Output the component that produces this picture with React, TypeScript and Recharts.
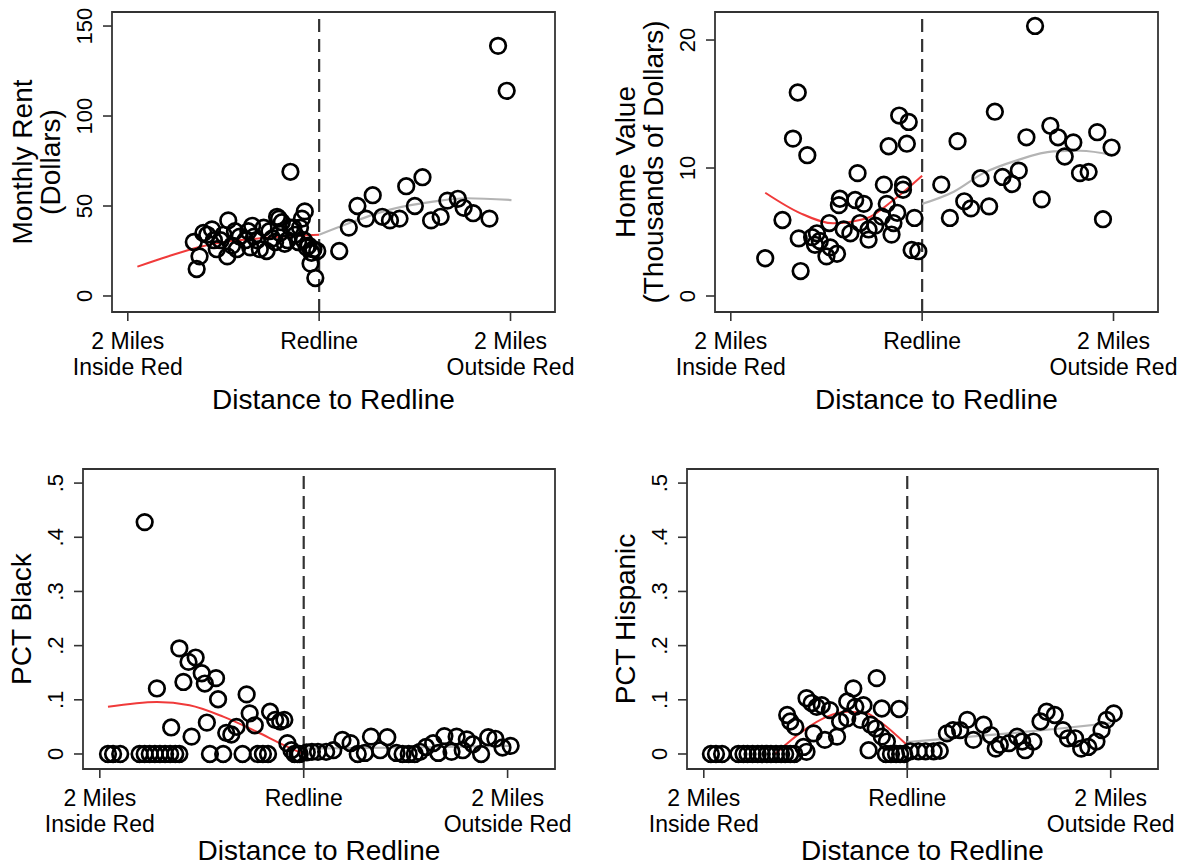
import {
  ComposedChart,
  Scatter,
  Line,
  XAxis,
  YAxis,
  ReferenceLine,
  ReferenceArea,
  Label,
} from "recharts"

type Pt = [number, number]

const FONT = '"Liberation Sans", Arial, Helvetica, sans-serif'

// distance to the redline, in miles (negative = inside the red area)
const X_DOMAIN: [number, number] = [-2.165, 2.465]
const X_TICKS = [-2, 0, 2]
const insideTickLabel = ["2 Miles", "Inside Red"]
const redlineTickLabel = ["Redline"]
const outsideTickLabel = ["2 Miles", "Outside Red"]
const xTitle = "Distance to Redline"

// --- Monthly rent ---
const rentTicks = [0, 50, 100, 150]
const rentTitle = ["Monthly Rent", "(Dollars)"]
const rentPoints: Pt[] = [
  [-1.28, 15], [-1.31, 30], [-1.25, 22], [-1.21, 35], [-1.17, 34], [-1.12, 37],
  [-1.1, 31], [-1.07, 26], [-1.03, 31], [-1.0, 34], [-0.96, 22], [-0.95, 42],
  [-0.91, 28], [-0.88, 36], [-0.86, 26], [-0.83, 33], [-0.77, 31], [-0.74, 36],
  [-0.72, 27], [-0.7, 39], [-0.68, 33], [-0.65, 31], [-0.62, 26], [-0.58, 38],
  [-0.55, 25], [-0.52, 36], [-0.49, 32], [-0.46, 30], [-0.44, 44], [-0.42, 43],
  [-0.41, 35], [-0.39, 41], [-0.36, 29], [-0.33, 31], [-0.3, 69], [-0.3, 38],
  [-0.27, 38], [-0.25, 34], [-0.22, 30], [-0.2, 38], [-0.18, 43], [-0.16, 31],
  [-0.15, 47], [-0.13, 27], [-0.11, 28], [-0.09, 18], [-0.08, 24], [-0.06, 26],
  [-0.04, 10], [-0.02, 25],
  [0.21, 25], [0.31, 38], [0.4, 50], [0.49, 43], [0.56, 56], [0.66, 44],
  [0.74, 42], [0.84, 43], [0.91, 61], [1.0, 50], [1.08, 66], [1.17, 42],
  [1.27, 44], [1.34, 53], [1.45, 54], [1.51, 49], [1.61, 46], [1.78, 43],
  [1.87, 139], [1.96, 114],
]
const rentFitInside: Pt[] = [
  [-1.9, 16.3], [-1.59, 21.8], [-1.24, 27.4], [-0.96, 30.2], [-0.72, 31.5], [-0.4, 33], [0, 34],
]
const rentFitOutside: Pt[] = [
  [0, 34], [0.31, 40.4], [0.74, 48], [1.19, 52.4], [1.54, 54.3], [2.01, 53.3],
]

// --- Home value ---
const valueTicks = [0, 10, 20]
const valueTitle = ["Home Value", "(Thousands of Dollars)"]
const valuePoints: Pt[] = [
  [-1.64, 2.95], [-1.46, 5.94], [-1.35, 12.3], [-1.3, 15.9], [-1.29, 4.5], [-1.27, 1.95],
  [-1.2, 11.0], [-1.15, 4.6], [-1.12, 4.0], [-1.1, 4.9], [-1.07, 4.3], [-1.0, 3.1],
  [-0.97, 5.7], [-0.96, 3.8], [-0.89, 3.3], [-0.87, 7.1], [-0.86, 7.6], [-0.82, 5.2],
  [-0.75, 4.9], [-0.7, 7.5], [-0.675, 9.6], [-0.65, 5.7], [-0.61, 7.2], [-0.56, 5.2],
  [-0.56, 4.4], [-0.49, 5.5], [-0.42, 6.2], [-0.4, 8.7], [-0.37, 7.2], [-0.35, 11.7],
  [-0.32, 4.8], [-0.3, 5.7], [-0.26, 6.5], [-0.24, 14.1], [-0.2, 8.7], [-0.2, 8.3],
  [-0.16, 11.9], [-0.14, 13.6], [-0.11, 3.6], [-0.08, 6.1], [-0.04, 3.5],
  [0.2, 8.7], [0.29, 6.1], [0.37, 12.1], [0.44, 7.4], [0.51, 6.85], [0.61, 9.2],
  [0.7, 7.0], [0.76, 14.4], [0.84, 9.3], [0.94, 8.75], [1.01, 9.8], [1.09, 12.4],
  [1.18, 21.1], [1.25, 7.55], [1.34, 13.3], [1.42, 12.4], [1.49, 10.9], [1.58, 12.0],
  [1.65, 9.6], [1.74, 9.7], [1.83, 12.8], [1.89, 6.0], [1.98, 11.6],
]
const valueFitInside: Pt[] = [
  [-1.64, 8.07], [-1.27, 6.46], [-0.93, 5.68], [-0.58, 6.07], [-0.3, 7.5], [0, 9.4],
]
const valueFitOutside: Pt[] = [
  [0, 7.2], [0.33, 8.15], [0.64, 9.6], [0.99, 10.6], [1.37, 11.3], [1.65, 11.35], [2.0, 11.0],
]

// --- Share Black / Hispanic ---
const shareTicks = [0, 0.1, 0.2, 0.3, 0.4, 0.5]
const blackTitle = ["PCT Black"]
const blackPoints: Pt[] = [
  [-1.92, 0], [-1.87, 0], [-1.8, 0], [-1.61, 0], [-1.56, 0], [-1.51, 0], [-1.46, 0],
  [-1.41, 0], [-1.36, 0], [-1.31, 0], [-1.26, 0], [-1.22, 0], [-0.92, 0], [-0.79, 0],
  [-0.6, 0], [-0.45, 0], [-0.4, 0], [-0.35, 0], [-0.09, 0], [-0.06, 0], [-0.04, 0],
  [-1.56, 0.428], [-1.44, 0.121], [-1.3, 0.049], [-1.22, 0.195], [-1.18, 0.133],
  [-1.13, 0.17], [-1.1, 0.032], [-1.06, 0.178], [-1.0, 0.149], [-0.97, 0.13],
  [-0.95, 0.058], [-0.86, 0.14], [-0.84, 0.101], [-0.76, 0.039], [-0.71, 0.036],
  [-0.66, 0.05], [-0.56, 0.11], [-0.53, 0.075], [-0.48, 0.053], [-0.33, 0.078],
  [-0.28, 0.063], [-0.23, 0.06], [-0.19, 0.063], [-0.16, 0.02], [-0.12, 0.007],
  [0.03, 0.003], [0.08, 0.004], [0.14, 0.004], [0.22, 0.004], [0.29, 0.007],
  [0.38, 0.026], [0.46, 0.02], [0.53, 0], [0.6, 0.002], [0.66, 0.032], [0.75, 0.007],
  [0.82, 0.031], [0.91, 0.002], [0.97, 0], [1.03, 0], [1.09, 0], [1.14, 0.004],
  [1.2, 0.013], [1.27, 0.02], [1.32, 0.002], [1.38, 0.033], [1.45, 0.004], [1.5, 0.032],
  [1.56, 0.007], [1.6, 0.027], [1.66, 0.018], [1.74, 0], [1.81, 0.031], [1.88, 0.028],
  [1.95, 0.012], [2.03, 0.015],
]
const blackFitInside: Pt[] = [
  [-1.92, 0.087], [-1.44, 0.096], [-1.12, 0.09], [-0.79, 0.069], [-0.46, 0.041], [-0.2, 0.017], [0, 0],
]
const blackFitOutside: Pt[] = [[0, 0.01], [1, 0.012], [2.02, 0.015]]

const hispanicTitle = ["PCT Hispanic"]
const hispanicPoints: Pt[] = [
  [-1.93, 0], [-1.88, 0], [-1.82, 0], [-1.66, 0], [-1.61, 0], [-1.57, 0], [-1.52, 0],
  [-1.47, 0], [-1.43, 0], [-1.38, 0], [-1.34, 0], [-1.29, 0], [-1.24, 0], [-1.2, 0],
  [-1.15, 0], [-1.11, 0], [-0.21, 0], [-0.16, 0], [-0.11, 0], [-0.07, 0], [-0.03, 0],
  [-0.38, 0.007], [-1.18, 0.072], [-1.15, 0.06], [-1.1, 0.05], [-1.02, 0.013],
  [-0.99, 0.004], [-0.99, 0.103], [-0.94, 0.094], [-0.92, 0.038], [-0.89, 0.087],
  [-0.84, 0.09], [-0.81, 0.026], [-0.76, 0.081], [-0.69, 0.032], [-0.66, 0.06],
  [-0.59, 0.097], [-0.59, 0.066], [-0.53, 0.121], [-0.51, 0.087], [-0.46, 0.063],
  [-0.43, 0.09], [-0.36, 0.054], [-0.31, 0.047], [-0.3, 0.14], [-0.25, 0.084],
  [-0.25, 0.032], [-0.2, 0.023], [-0.08, 0.083],
  [0.03, 0.005], [0.11, 0.005], [0.18, 0.005], [0.26, 0.005], [0.32, 0.006],
  [0.39, 0.038], [0.45, 0.044], [0.52, 0.044], [0.59, 0.063], [0.65, 0.026],
  [0.75, 0.054], [0.82, 0.035], [0.87, 0.01], [0.91, 0.017], [1.0, 0.02], [1.08, 0.032],
  [1.13, 0.023], [1.16, 0.007], [1.24, 0.023], [1.31, 0.06], [1.37, 0.078],
  [1.45, 0.072], [1.53, 0.044], [1.58, 0.029], [1.65, 0.029], [1.71, 0.01],
  [1.78, 0.013], [1.86, 0.023], [1.91, 0.044], [1.96, 0.063], [2.03, 0.075],
]
const hispanicFitInside: Pt[] = [
  [-1.3, 0], [-1.0, 0.046], [-0.8, 0.068], [-0.59, 0.078], [-0.4, 0.075], [-0.27, 0.06], [0, 0.016],
]
const hispanicFitOutside: Pt[] = [
  [0, 0.022], [0.5, 0.03], [1.0, 0.038], [1.5, 0.047], [2.0, 0.057],
]

const toRows = (pts: Pt[]) => pts.map(([x, y]) => ({ x, y }))

const fmtShare = (v: number) => (v === 0 ? "0" : String(v).replace(/^0/, ""))

function XTick({ x, y, payload }: any) {
  const v = payload.value
  const lines = v < 0 ? insideTickLabel : v > 0 ? outsideTickLabel : redlineTickLabel
  return (
    <g>
      {lines.map((s, i) => (
        <text key={i} x={x} y={y + 20 + i * 26} textAnchor="middle" dominantBaseline="central"
          fontSize={23} fontFamily={FONT} fill="#000">
          {s}
        </text>
      ))}
    </g>
  )
}

function YTick({ x, y, payload, fmt }: any) {
  return (
    <text x={x} y={y} transform={`rotate(-90 ${x} ${y})`} textAnchor="middle"
      dominantBaseline="central" fontSize={22} fontFamily={FONT} fill="#000">
      {fmt(payload.value)}
    </text>
  )
}

function YTitle({ viewBox, lines }: any) {
  const { x, y, width, height } = viewBox
  const right = x + width
  const cy = y + height / 2
  const offsets = lines.length > 1 ? [-90, -62] : [-62]
  return (
    <g>
      {lines.map((s: string, i: number) => {
        const tx = right + offsets[i]
        return (
          <text key={i} x={tx} y={cy} transform={`rotate(-90 ${tx} ${cy})`} textAnchor="middle"
            dominantBaseline="central" fontSize={28} fontFamily={FONT} fill="#000">
            {s}
          </text>
        )
      })}
    </g>
  )
}

function XTitle({ viewBox, offset }: any) {
  const { x, y, width } = viewBox
  return (
    <text x={x + width / 2} y={y + offset} textAnchor="middle" dominantBaseline="central"
      fontSize={28} fontFamily={FONT} fill="#000">
      {xTitle}
    </text>
  )
}

const Ring = (p: any) => (
  <circle cx={p.cx} cy={p.cy} r={7.8} fill="none" stroke="#000" strokeWidth={2.7} />
)

interface PanelProps {
  left: number
  top: number
  width: number
  height: number
  marginTop: number
  marginRight: number
  yWidth: number
  xHeight: number
  titleOffset: number
  yDomain: [number, number]
  yTicks: number[]
  fmt: (v: number) => string
  yTitle: string[]
  points: Pt[]
  fitInside: Pt[]
  fitOutside: Pt[]
}

function Panel(p: PanelProps) {
  return (
    <div style={{ position: "absolute", left: p.left, top: p.top }}>
      <ComposedChart
        width={p.width}
        height={p.height}
        margin={{ top: p.marginTop, right: p.marginRight, bottom: 0, left: 0 }}
      >
        <XAxis
          type="number"
          dataKey="x"
          domain={X_DOMAIN}
          ticks={X_TICKS}
          allowDataOverflow
          height={p.xHeight}
          axisLine={false}
          tickSize={9}
          tickMargin={0}
          tickLine={{ stroke: "#333", strokeWidth: 1.6 }}
          tick={XTick}
          interval={0}
        >
          <Label content={(l: any) => <XTitle {...l} offset={p.titleOffset} />} />
        </XAxis>
        <YAxis
          type="number"
          dataKey="y"
          domain={p.yDomain}
          ticks={p.yTicks}
          allowDataOverflow
          width={p.yWidth}
          axisLine={false}
          tickSize={9}
          tickMargin={18}
          tickLine={{ stroke: "#333", strokeWidth: 1.6 }}
          tick={(t: any) => <YTick {...t} fmt={p.fmt} />}
          interval={0}
        >
          <Label content={(l: any) => <YTitle {...l} lines={p.yTitle} />} />
        </YAxis>
        <ReferenceArea
          x1={X_DOMAIN[0]}
          x2={X_DOMAIN[1]}
          y1={p.yDomain[0]}
          y2={p.yDomain[1]}
          fill="none"
          stroke="#333"
          strokeWidth={1.8}
          ifOverflow="visible"
        />
        <ReferenceLine x={0} stroke="#333" strokeWidth={2.2} strokeDasharray="13 7" />
        <Scatter data={toRows(p.points)} shape={Ring} isAnimationActive={false} />
        <Line
          data={toRows(p.fitInside)}
          dataKey="y"
          type="monotone"
          stroke="#f03a3a"
          strokeWidth={2}
          dot={false}
          isAnimationActive={false}
        />
        <Line
          data={toRows(p.fitOutside)}
          dataKey="y"
          type="monotone"
          stroke="#b4b4b4"
          strokeWidth={2.2}
          dot={false}
          isAnimationActive={false}
        />
      </ComposedChart>
    </div>
  )
}

export default function App() {
  return (
    <div style={{ position: "absolute", left: 0, top: 0, width: 1183, height: 867, background: "#fff", overflow: "hidden" }}>
      <Panel
        left={0} top={0} width={600} height={430} marginTop={12} marginRight={45}
        yWidth={112} xHeight={118} titleOffset={87}
        yDomain={[-8.9, 157.8]} yTicks={rentTicks} fmt={String} yTitle={rentTitle}
        points={rentPoints} fitInside={rentFitInside} fitOutside={rentFitOutside}
      />
      <Panel
        left={600} top={0} width={583} height={430} marginTop={12} marginRight={25}
        yWidth={115} xHeight={118} titleOffset={87}
        yDomain={[-1.25, 22.19]} yTicks={valueTicks} fmt={String} yTitle={valueTitle}
        points={valuePoints} fitInside={valueFitInside} fitOutside={valueFitOutside}
      />
      <Panel
        left={0} top={430} width={600} height={437} marginTop={39} marginRight={45}
        yWidth={83} xHeight={98} titleOffset={81}
        yDomain={[-0.0277, 0.526]} yTicks={shareTicks} fmt={fmtShare} yTitle={blackTitle}
        points={blackPoints} fitInside={blackFitInside} fitOutside={blackFitOutside}
      />
      <Panel
        left={600} top={430} width={583} height={437} marginTop={39} marginRight={25}
        yWidth={87} xHeight={98} titleOffset={81}
        yDomain={[-0.0277, 0.526]} yTicks={shareTicks} fmt={fmtShare} yTitle={hispanicTitle}
        points={hispanicPoints} fitInside={hispanicFitInside} fitOutside={hispanicFitOutside}
      />
    </div>
  )
}
